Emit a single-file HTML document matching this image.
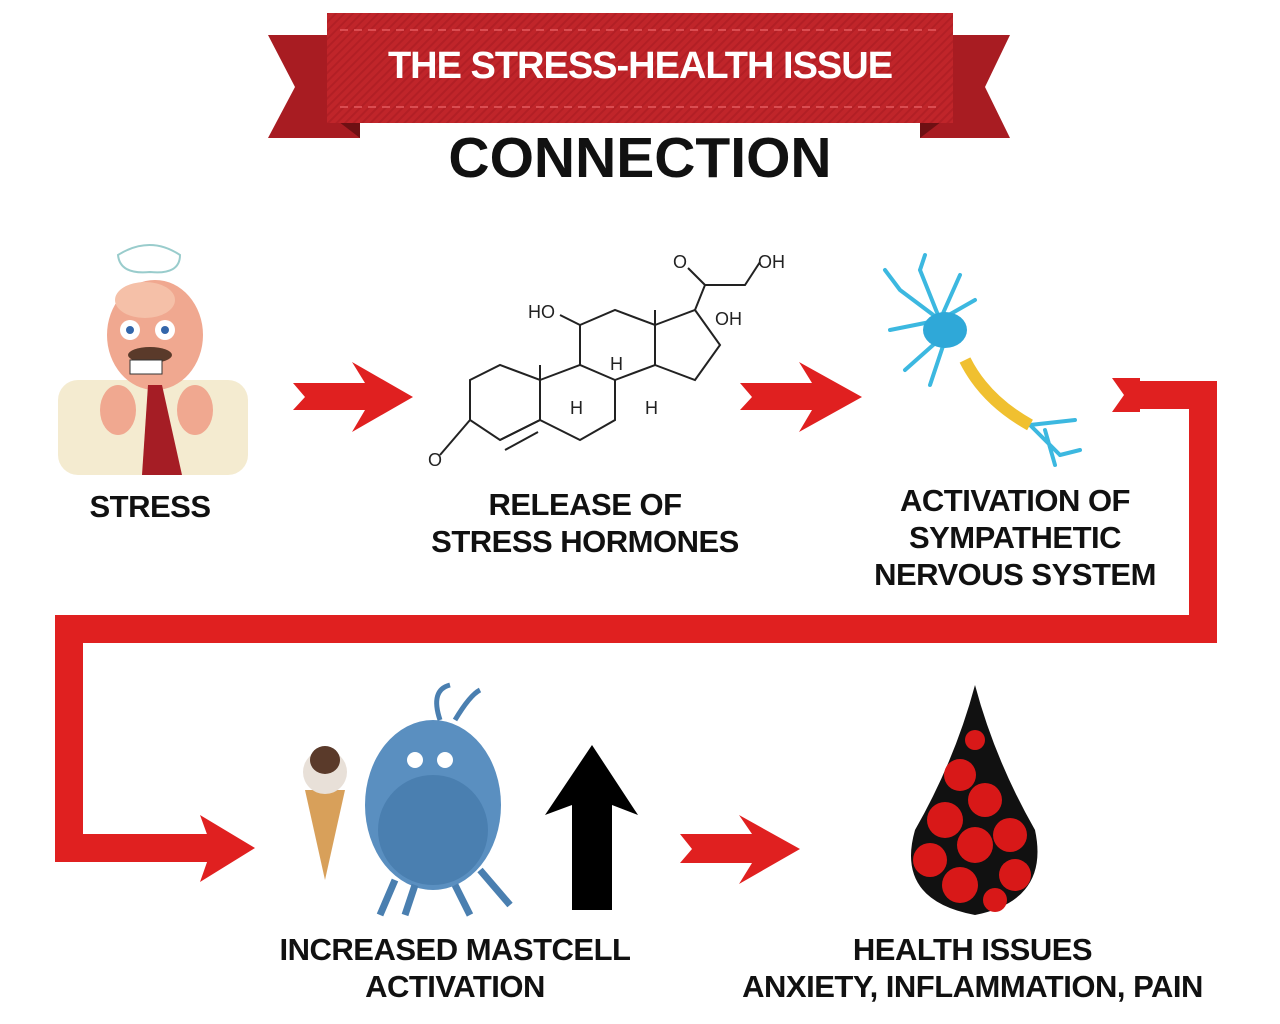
<!DOCTYPE html>
<html><head><meta charset="utf-8"><style>
body{margin:0;width:1280px;height:1024px;background:#fff;overflow:hidden;position:relative;font-family:"Liberation Sans",sans-serif}
.t{position:absolute;font-weight:bold;color:#111;text-align:center;font-size:31px;line-height:37px;letter-spacing:-0.5px;white-space:nowrap}
svg{position:absolute;left:0;top:0}
</style></head><body>
<svg width="1280" height="1024" viewBox="0 0 1280 1024">
<defs><pattern id="st" width="6" height="6" patternUnits="userSpaceOnUse" patternTransform="rotate(45)"><rect width="6" height="6" fill="#c0252a"/><rect width="2" height="6" fill="#b21f25"/></pattern></defs>
<polygon points="268,35 360,35 360,138 268,138 295,87" fill="#a81c22"/>
<polygon points="1010,35 920,35 920,138 1010,138 985,87" fill="#a81c22"/>
<polygon points="330,115 360,138 360,115" fill="#6e1013"/>
<polygon points="950,115 920,138 920,115" fill="#6e1013"/>
<rect x="327" y="13" width="626" height="110" fill="url(#st)"/>
<line x1="340" y1="30" x2="940" y2="30" stroke="#e45a5e" stroke-dasharray="8 6" stroke-width="1.5"/>
<line x1="340" y1="107" x2="940" y2="107" stroke="#e45a5e" stroke-dasharray="8 6" stroke-width="1.5"/>
<polyline points="1130,395 1203,395 1203,629 69,629 69,848 215,848" fill="none" stroke="#e02020" stroke-width="28"/>
<polygon points="1112,378 1140,378 1140,412 1112,412 1124,395" fill="#e02020"/>
<polygon points="200,815 255,848 200,882 212,848" fill="#e02020"/>
<g fill="#e02020">
<polygon points="293,383 365,383 352,362 413,397 352,432 365,410 293,410 305,397"/>
<polygon points="740,383 812,383 799,362 862,397 799,432 812,410 740,410 752,397"/>
<polygon points="680,834 752,834 739,815 800,849 739,884 752,863 680,863 692,849"/>
</g>
<polygon points="592,745 638,815 612,805 612,910 572,910 572,805 545,815" fill="#000"/>
<rect x="58" y="380" width="190" height="95" rx="20" fill="#f4ebd0"/>
<ellipse cx="155" cy="335" rx="48" ry="55" fill="#f0a890"/>
<ellipse cx="145" cy="300" rx="30" ry="18" fill="#f5c0a8"/>
<circle cx="130" cy="330" r="10" fill="#fff"/><circle cx="165" cy="330" r="10" fill="#fff"/>
<circle cx="130" cy="330" r="4" fill="#36a"/><circle cx="165" cy="330" r="4" fill="#36a"/>
<ellipse cx="150" cy="355" rx="22" ry="8" fill="#5a3a2a"/>
<rect x="130" y="360" width="32" height="14" fill="#fff" stroke="#333"/>
<polygon points="148,385 162,385 182,475 142,475" fill="#a51d25"/>
<ellipse cx="118" cy="410" rx="18" ry="25" fill="#f0a890"/><ellipse cx="195" cy="410" rx="18" ry="25" fill="#f0a890"/>
<path d="M118,255 Q150,235 180,255 Q180,275 150,272 Q120,275 118,255Z" fill="none" stroke="#9cc" stroke-width="2"/>
<g fill="none" stroke="#222" stroke-width="2">
<path d="M470,380 L500,365 L540,380 L540,420 L500,440 L470,420 Z"/>
<path d="M540,380 L580,365 L615,380 L615,420 L580,440 L540,420"/>
<path d="M580,365 L580,325 L615,310 L655,325 L655,365 L615,380"/>
<path d="M655,325 L695,310 L720,345 L695,380 L655,365"/>
<path d="M470,420 L440,455"/><path d="M500,440 L540,420"/><path d="M505,450 L538,432"/>
<path d="M580,325 L560,315"/><path d="M695,310 L705,285 L745,285 L760,262"/><path d="M705,285 L688,268"/>
<path d="M540,380 L540,365"/><path d="M655,325 L655,310"/>
</g>
<g font-family="Liberation Sans" font-size="18" fill="#222">
<text x="428" y="466">O</text><text x="528" y="318">HO</text><text x="610" y="370">H</text><text x="570" y="414">H</text><text x="645" y="414">H</text>
<text x="673" y="268">O</text><text x="758" y="268">OH</text><text x="715" y="325">OH</text>
</g>
<g stroke="#3cb8e0" stroke-width="4" fill="none" stroke-linecap="round">
<path d="M940,320 L900,290 M940,320 L890,330 M940,320 L920,270 M940,320 L960,275 M940,320 L975,300 M950,330 L905,370 M945,340 L930,385 M900,290 L885,270 M920,270 L925,255"/>
<path d="M1030,425 L1075,420 M1030,425 L1060,455 M1060,455 L1080,450 M1045,430 L1055,465"/>
</g>
<ellipse cx="945" cy="330" rx="22" ry="18" fill="#2fa8d8"/>
<path d="M965,360 Q985,400 1030,425" stroke="#f0c030" stroke-width="12" fill="none"/>
<polygon points="305,790 345,790 325,880" fill="#d8a05a"/>
<ellipse cx="325" cy="772" rx="22" ry="22" fill="#e8e0d8"/><ellipse cx="325" cy="760" rx="15" ry="14" fill="#5a3a2a"/>
<ellipse cx="433" cy="805" rx="68" ry="85" fill="#5a8fc0"/>
<ellipse cx="433" cy="830" rx="55" ry="55" fill="#4a7fb0"/>
<path d="M440,720 Q430,690 450,685 M455,720 Q470,695 480,690" stroke="#4a7fb0" stroke-width="5" fill="none"/>
<circle cx="415" cy="760" r="8" fill="#fff"/><circle cx="445" cy="760" r="8" fill="#fff"/>
<path d="M395,880 L380,915 M415,885 L405,915 M455,885 L470,915 M480,870 L510,905" stroke="#4a7fb0" stroke-width="7"/>
<path d="M975,685 Q955,760 915,830 Q895,900 975,915 Q1050,900 1035,830 Q995,760 975,685Z" fill="#111"/>
<g fill="#d81818">
<circle cx="960" cy="775" r="16"/><circle cx="985" cy="800" r="17"/><circle cx="945" cy="820" r="18"/><circle cx="1010" cy="835" r="17"/>
<circle cx="975" cy="845" r="18"/><circle cx="930" cy="860" r="17"/><circle cx="1015" cy="875" r="16"/><circle cx="960" cy="885" r="18"/><circle cx="995" cy="900" r="12"/><circle cx="975" cy="740" r="10"/>
</g>
</svg>
<div class="t" style="left:327px;top:44px;width:626px;color:#fff;font-size:38px;line-height:44px;letter-spacing:-1px">THE STRESS-HEALTH ISSUE</div>
<div class="t" style="left:340px;top:127px;width:600px;font-size:57px;line-height:62px;letter-spacing:0">CONNECTION</div>
<div class="t" style="left:50px;top:488px;width:200px">STRESS</div>
<div class="t" style="left:400px;top:486px;width:370px">RELEASE OF<br>STRESS HORMONES</div>
<div class="t" style="left:840px;top:482px;width:350px">ACTIVATION OF<br>SYMPATHETIC<br>NERVOUS SYSTEM</div>
<div class="t" style="left:240px;top:931px;width:430px">INCREASED MASTCELL<br>ACTIVATION</div>
<div class="t" style="left:700px;top:931px;width:545px">HEALTH ISSUES<br>ANXIETY, INFLAMMATION, PAIN</div>
</body></html>
